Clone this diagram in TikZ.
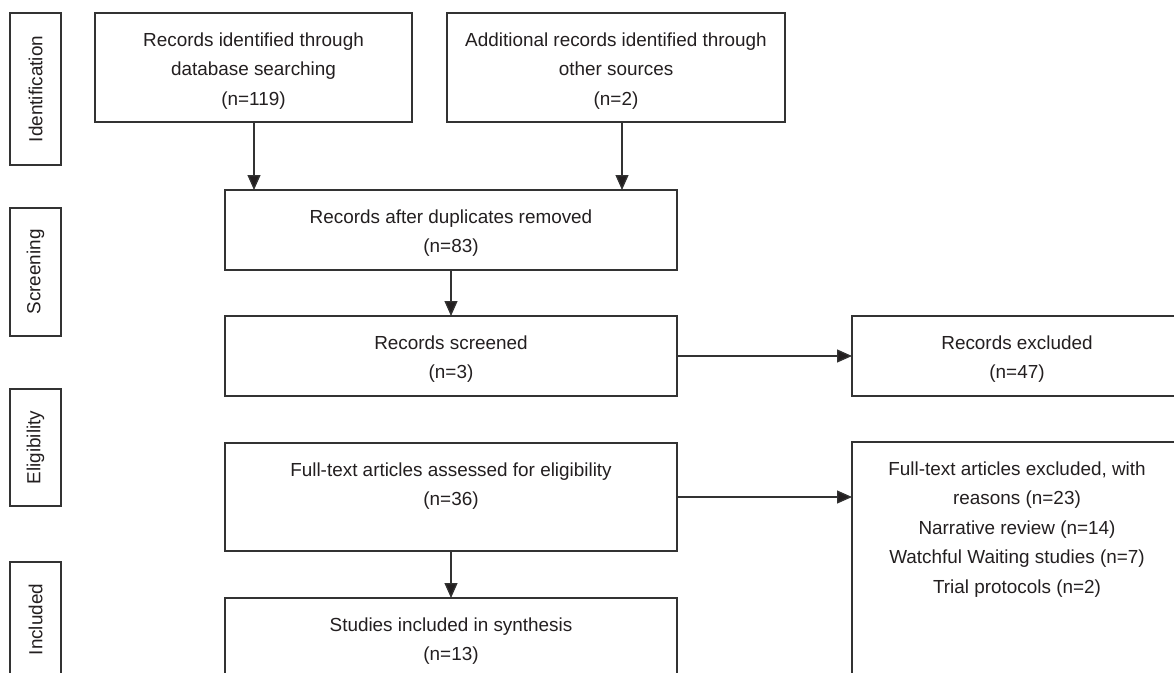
\documentclass[tikz,border=0pt]{standalone}
\usepackage{fontspec}
\setmainfont{Liberation Sans}
\usetikzlibrary{arrows.meta,calc}
\definecolor{linec}{HTML}{333333}
\definecolor{textc}{HTML}{231F20}
\begin{document}
\begin{tikzpicture}[x=1pt,y=-1pt,
  frame/.style={draw=linec, line width=1.3pt, inner sep=0pt, outer sep=0pt},
  txt/.style={anchor=north, inner sep=0pt, align=center, text=textc,
    font=\fontsize{18.9}{29.5}\selectfont},
  side/.style={rotate=90, inner sep=0pt, text=textc,
    font=\fontsize{18.9}{22}\selectfont},
  arr/.style={draw=linec, line width=1.3pt,
    -{Triangle[length=15pt,width=13pt,fill=textc]}}]
\useasboundingbox (0,0) rectangle (1174,672);
\clip (0,0) rectangle (1174,672);
\fill[white] (0,0) rectangle (1174,672);

% stage labels
\node[frame, minimum width=51pt, minimum height=152pt] (L1) at (35.5,89) {};
\node[frame, minimum width=51pt, minimum height=128pt] (L2) at (35.5,272) {};
\node[frame, minimum width=51pt, minimum height=117pt] (L3) at (35.5,447.5) {};
\node[frame, minimum width=51pt, minimum height=115pt] (L4) at (35.5,619.5) {};
\node[side] (l1) at (L1.center) {Identification};
\node[side] (l2) at (L2.center) {Screening};
\node[side] (l3) at (L3.center) {Eligibility};
\node[side] (l4) at (L4.center) {Included};

% boxes
\node[frame, minimum width=317pt, minimum height=109pt] (B1) at (253.5,67.5) {};
\node[frame, minimum width=338pt, minimum height=109pt] (B2) at (616,67.5) {};
\node[frame, minimum width=452pt, minimum height=80pt] (B3) at (451,230) {};
\node[frame, minimum width=452pt, minimum height=80pt] (B4) at (451,356) {};
\node[frame, minimum width=452pt, minimum height=108pt] (B5) at (451,497) {};
\node[frame, minimum width=452pt, minimum height=102pt] (B6) at (451,649) {};
\node[frame, minimum width=330pt, minimum height=80pt] (R1) at (1017,356) {};
\node[frame, minimum width=330pt, minimum height=258pt] (R2) at (1017,571) {};

% texts
\node[txt] (t1) at ([yshift=-12.35pt]B1.north) {\strut Records identified through\\database searching\\(n=119)};
\node[txt] (t2) at ([yshift=-12.35pt]B2.north) {\strut Additional records identified through\\other sources\\(n=2)};
\node[txt] (t3) at ([yshift=-12.35pt]B3.north) {\strut Records after duplicates removed\\(n=83)};
\node[txt] (t4) at ([yshift=-12.35pt]B4.north) {\strut Records screened\\(n=3)};
\node[txt] (t5) at ([yshift=-12.35pt]B5.north) {\strut Full-text articles assessed for eligibility\\(n=36)};
\node[txt] (t6) at ([yshift=-12.35pt]B6.north) {\strut Studies included in synthesis\\(n=13)};
\node[txt] (t7) at ([yshift=-12.35pt]R1.north) {\strut Records excluded\\(n=47)};
\node[txt] (t8) at ([yshift=-12.35pt]R2.north) {\strut Full-text articles excluded, with\\reasons (n=23)\\Narrative review (n=14)\\Watchful Waiting studies (n=7)\\Trial protocols (n=2)};

% connectors
\draw[arr] ([xshift=0.5pt]B1.south) -- ([xshift=0.5pt]B1.south |- B3.north);
\draw[arr] ([xshift=6pt]B2.south) -- ([xshift=6pt]B2.south |- B3.north);
\draw[arr] (B3.south) -- (B4.north);
\draw[arr] (B4.east) -- (R1.west);
\draw[arr] (B5.east) -- (B5.east -| R2.west);
\draw[arr] (B5.south) -- (B6.north);
\end{tikzpicture}
\end{document}
